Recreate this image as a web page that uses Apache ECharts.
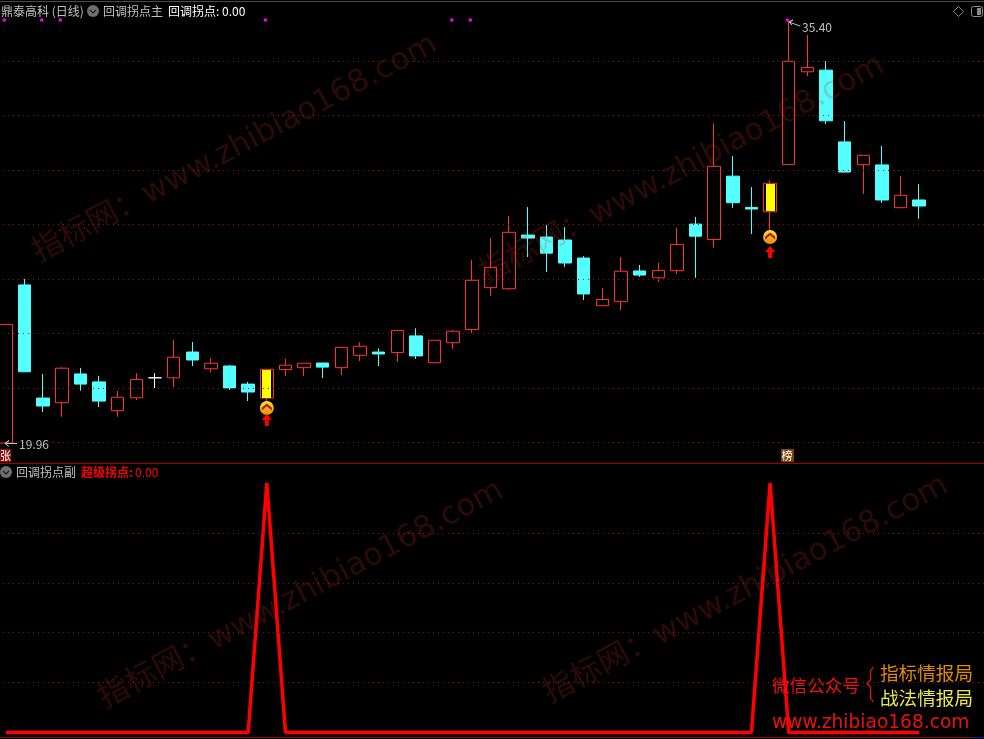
<!DOCTYPE html>
<html>
<head>
<meta charset="utf-8">
<style>html,body{margin:0;padding:0;background:#000;}#c{width:984px;height:739px;}</style>
<script src="https://cdn.jsdelivr.net/npm/echarts@6/dist/echarts.min.js"></script>
</head>
<body>
<div id="c"></div>
<script>
// k 线数据
var opens  = [19.96,25.73,21.60,21.43,22.48,22.19,21.14,21.61,22.34,22.34,23.28,22.67,22.77,22.11,21.60,22.64,22.71,22.88,22.71,23.16,23.28,23.26,23.87,22.89,23.62,24.10,25.63,25.59,27.55,27.48,27.37,26.71,24.97,25.12,26.24,25.99,26.25,27.95,27.39,29.70,28.56,28.40,30.13,33.51,33.57,30.95,30.12,30.11,28.55,28.83];
var closes = [24.29,22.56,21.31,22.69,22.11,21.49,21.63,22.28,22.34,23.09,22.99,22.87,21.97,21.82,22.65,22.80,22.87,22.73,23.45,23.49,23.21,24.07,23.14,23.71,24.04,25.90,26.37,27.65,27.44,26.89,26.53,25.40,25.20,26.23,26.09,26.26,27.21,27.51,30.06,28.73,28.50,29.44,33.89,33.67,31.72,29.85,30.46,28.83,29.00,28.61];
var lows   = [19.96,22.56,21.09,20.92,21.87,21.27,20.92,21.53,21.97,22.00,22.77,22.53,21.89,21.49,21.46,22.41,22.41,22.33,22.44,22.95,22.77,22.92,23.03,22.89,23.40,23.97,25.32,25.55,26.75,26.20,26.38,25.18,24.97,24.81,26.02,25.84,26.13,25.99,27.09,28.54,27.59,27.73,30.13,33.35,31.60,29.85,29.05,28.72,28.55,28.14];
var highs  = [24.29,25.95,22.48,22.73,22.70,22.41,21.86,22.51,22.51,23.72,23.65,23.06,22.81,22.19,22.66,23.03,22.87,22.88,23.45,23.64,23.42,24.07,24.15,23.71,24.08,26.64,27.44,28.24,28.57,27.92,27.84,26.78,25.62,26.75,26.46,26.53,27.81,28.21,31.63,30.43,29.30,29.55,35.40,34.85,33.90,31.71,30.46,30.80,29.70,29.41];
var superPoint = [0,0,0,0,0,0,0,0,0,0,0,0,0,0,1,0,0,0,0,0,0,0,0,0,0,0,0,0,0,0,0,0,0,0,0,0,0,0,0,0,0,1,0,0,0,0,0,0,0,0];
var dojiIndex = [8];
var signalIndex = [14, 41];
var signalBadgePrice = [21.24, 27.48];
var signalArrowPrice = [20.80, 26.93];
var topMarkIndex = [0, 2, 3, 14, 24, 25, 42];
var topMarkPrice = 35.40;
var mainGridPrices = [19.99,21.97,23.96,25.95,27.94,29.93,31.92,33.91];
var subGridValues = [0.2,0.4,0.6,0.8];
var blankBars = 3;

var RED='#ff3232', CYAN='#54ffff', GRAY='#c0c0c0';
var CJK='"Noto Sans CJK SC","Liberation Sans",sans-serif';
var cats=[]; for(var i=0;i<opens.length+blankBars;i++) cats.push('D'+i);

var kData=opens.map(function(o,i){
  var item={value:[o,closes[i],lows[i],highs[i]]};
  if(dojiIndex.indexOf(i)>=0) item.itemStyle={color:'#fff',color0:'#fff',borderColor:'#fff',borderColor0:'#fff'};
  return item;
});
var yellowData=signalIndex.map(function(k){
  var a=opens[k],b=closes[k];
  return {value:[k,a,b,Math.min(a,b),Math.max(a,b)]};
});
function gridMark(vals,axisKey){
  return {silent:true,symbol:'none',animation:false,label:{show:false},
    lineStyle:{color:'#8c1414',width:1,type:[1,4],opacity:1},
    data:vals.map(function(v){var p={};var q={};p.x=3;q.x=984;p[axisKey]=v;q[axisKey]=v;return [p,q];})};
}
var chevron='path://M0 6L6 0L12 6L12 10L6 4L0 10Z';
var arrow='path://M5 0L10 6L7 6L7 12L3 12L3 6L0 6Z';

function txt(x,y,s,fill,size,weight,align,family){
  return {type:'text',x:x,y:y,z:60,silent:true,style:{text:s,fill:fill,font:(weight||'normal')+' '+(size||12)+'px '+(family||CJK),textAlign:align||'left',textVerticalAlign:'middle'}};
}
function roundIcon(x,y){
  return [
    {type:'circle',z:60,silent:true,shape:{cx:x,cy:y,r:6},style:{fill:'#6e6e6e'}},
    {type:'polyline',z:61,silent:true,shape:{points:[[x-3,y-1],[x,y+2],[x+3,y-1]]},style:{stroke:'#1a1a1a',lineWidth:1.2,fill:null}}
  ];
}
function watermark(x,y){
  return {type:'text',x:x,y:y,rotation:28*Math.PI/180,z:50,silent:true,
    style:{text:'指标网：www.zhibiao168.com',fill:'rgba(200,50,30,0.22)',font:'31px "DejaVu Sans","Noto Sans CJK SC",sans-serif',textAlign:'center',textVerticalAlign:'middle'}};
}
var graphics=[
  {type:'line',z:40,silent:true,shape:{x1:0,y1:1.5,x2:984,y2:1.5},style:{stroke:'#4a4a4a',lineWidth:1}},
  {type:'line',z:40,silent:true,shape:{x1:0,y1:463.5,x2:984,y2:463.5},style:{stroke:'#a00000',lineWidth:1}},
  {type:'line',z:40,silent:true,shape:{x1:0,y1:737.5,x2:984,y2:737.5},style:{stroke:'#a00000',lineWidth:1}},
  txt(1,11,'鼎泰高科 (日线)',GRAY),
  txt(103,11,'回调拐点主',GRAY),
  txt(168,11,'回调拐点: 0.00','#ffffff'),
  txt(16,472,'回调拐点副',GRAY),
  txt(81,472,'超级拐点:','#ff0000',12,'bold'),
  txt(135,472,'0.00','#ff0000'),
  // 高低价标注
  {type:'polyline',z:41,silent:true,shape:{points:[[17,443.5],[5,443.5],[9,440.5],[5,443.5],[9,446.5]]},style:{stroke:GRAY,lineWidth:1,fill:null}},
  txt(19,444,'19.96',GRAY),
  {type:'polyline',z:41,silent:true,shape:{points:[[800,26],[789,22],[793,20],[789,22],[792,25]]},style:{stroke:GRAY,lineWidth:1,fill:null}},
  txt(802,27,'35.40',GRAY),
  // 标记
  {type:'rect',z:41,silent:true,shape:{x:0,y:449,width:11,height:13},style:{fill:'#8a0f0f'}},
  txt(0,455.5,'张','#ffffff',11),
  {type:'rect',z:41,silent:true,shape:{x:781,y:449,width:13,height:13},style:{fill:'#7a4208'}},
  txt(781.5,455.5,'榜','#ffffff',11),
  // 右上角图标
  {type:'polygon',z:41,silent:true,shape:{points:[[958.5,6.5],[963.5,11.5],[958.5,16.5],[953.5,11.5]]},style:{stroke:'#8a8a8a',fill:null,lineWidth:1}},
  {type:'rect',z:41,silent:true,shape:{x:971.5,y:6.5,width:11,height:10,r:2},style:{stroke:'#8a8a8a',fill:null,lineWidth:1}},
  {type:'rect',z:41,silent:true,shape:{x:977,y:8,width:4,height:7},style:{fill:'#8a8a8a'}},
  // 水印
  watermark(235,149),watermark(682,170),watermark(301,595),watermark(746,590),
  // 右下角文字
  txt(772,685,'微信公众号','#ee1111',17.6),
  {type:'polyline',z:60,silent:true,shape:{points:[[873.5,667],[870.5,671],[870.5,680],[867,683.5],[870.5,687],[870.5,698],[873.5,702]]},style:{stroke:'#ee1111',fill:null,lineWidth:1.2}},
  txt(880,673,'指标情报局','#e58a00',18.6),
  txt(880,698,'战法情报局','#e8e850',18.6),
  txt(772,723,'www.zhibiao168.com','#e81212',18.6,'normal','left','"DejaVu Sans",sans-serif'),
  {type:'line',z:61,silent:true,shape:{x1:970,y1:737.5,x2:984,y2:737.5},style:{stroke:'#1a1a8a',lineWidth:1}}
];
graphics=graphics.concat(roundIcon(93,11),roundIcon(6,472));

var option={
  backgroundColor:'#000',animation:false,
  grid:[
    {left:-3.45,top:0,width:987.9,height:463,outerBoundsMode:'none',containLabel:false},
    {left:-3.45,top:483,width:987.9,height:249.5,outerBoundsMode:'none',containLabel:false}
  ],
  xAxis:[
    {type:'category',gridIndex:0,data:cats,boundaryGap:true,show:false},
    {type:'category',gridIndex:1,data:cats,boundaryGap:true,show:false}
  ],
  yAxis:[
    {type:'value',gridIndex:0,min:19.23,max:36.13,show:false,splitLine:{show:false}},
    {type:'value',gridIndex:1,min:0,max:1,show:false,splitLine:{show:false}}
  ],
  series:[
    {type:'line',name:'mainGrid',xAxisIndex:0,yAxisIndex:0,data:[],z:1,silent:true,markLine:gridMark(mainGridPrices,'yAxis')},
    {type:'candlestick',name:'K',xAxisIndex:0,yAxisIndex:0,z:3,barWidth:13,clip:false,data:kData,
      itemStyle:{color:'#000',color0:CYAN,borderColor:RED,borderColor0:CYAN,borderWidth:1}},
    {type:'custom',name:'signalBody',xAxisIndex:0,yAxisIndex:0,z:4,clip:false,data:yellowData,
      encode:{x:0,y:[1,2]},
      renderItem:function(p,api){
        var a=api.coord([api.value(0),api.value(1)]);
        var b=api.coord([api.value(0),api.value(2)]);
        return {type:'rect',shape:{x:Math.floor(a[0])-4,y:Math.round(b[1])+1,width:9,height:Math.round(a[1]-b[1])-1},style:{fill:'#ffff00'}};
      }},
    {type:'scatter',name:'topMark',xAxisIndex:0,yAxisIndex:0,z:5,symbol:'rect',symbolSize:3,symbolOffset:[-1.5,0],clip:false,silent:true,
      data:topMarkIndex.map(function(k){return [k,topMarkPrice];}),itemStyle:{color:'#ff00ff',opacity:1}},
    {type:'scatter',name:'badge',xAxisIndex:0,yAxisIndex:0,z:5,symbol:'circle',symbolSize:14,silent:true,
      data:signalIndex.map(function(k,i){return [k,signalBadgePrice[i]];}),
      itemStyle:{opacity:1,color:{type:'linear',x:0,y:0,x2:0,y2:1,colorStops:[{offset:0,color:'#ffe23a'},{offset:1,color:'#f58a00'}]}}},
    {type:'scatter',name:'badgeMark',xAxisIndex:0,yAxisIndex:0,z:6,symbol:chevron,symbolSize:[10,7],symbolOffset:[0,-1],silent:true,
      data:signalIndex.map(function(k,i){return [k,signalBadgePrice[i]];}),itemStyle:{color:'#b01818',opacity:1}},
    {type:'scatter',name:'arrow',xAxisIndex:0,yAxisIndex:0,z:5,symbol:arrow,symbolSize:[10,12],silent:true,
      data:signalIndex.map(function(k,i){return [k,signalArrowPrice[i]];}),itemStyle:{color:'#ff0000',opacity:1}},
    {type:'line',name:'subGrid',xAxisIndex:1,yAxisIndex:1,data:[],z:1,silent:true,markLine:gridMark(subGridValues,'yAxis')},
    {type:'line',name:'超级拐点',xAxisIndex:1,yAxisIndex:1,z:3,data:superPoint,symbol:'none',clip:false,silent:true,
      lineStyle:{color:'#ff0000',width:3.5,cap:'butt',join:'bevel'}}
  ],
  graphic:graphics
};
echarts.init(document.getElementById('c'),null,{renderer:'canvas'}).setOption(option);
</script>
</body>
</html>
